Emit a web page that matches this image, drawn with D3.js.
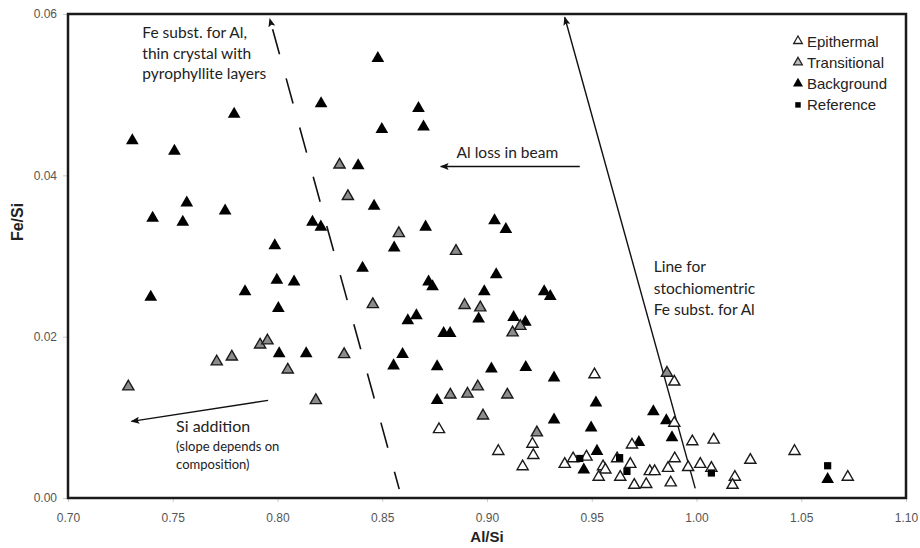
<!DOCTYPE html>
<html>
<head>
<meta charset="utf-8">
<script src="https://cdn.jsdelivr.net/npm/d3@7"></script>
<style>
  body { margin: 0; background: #fff; }
  svg { display: block; }
</style>
</head>
<body>
<div id="chart"></div>
<script>
// data: [Al/Si, Fe/Si]
const epithermal = [
  [0.9513,0.0153],[0.9894,0.0144],[0.8771,0.0085],[0.9217,0.0067],[0.9054,0.0058],
  [0.9221,0.0053],[0.9170,0.0039],[0.9371,0.0042],[0.9411,0.0049],[0.9475,0.0051],
  [0.9554,0.0039],[0.9565,0.0035],[0.9533,0.0026],[0.9621,0.0049],[0.9684,0.0042],
  [0.9636,0.0026],[0.9703,0.0016],[0.9760,0.0017],[0.9777,0.0033],[0.9800,0.0033],
  [0.9864,0.0037],[0.9896,0.0049],[0.9877,0.0019],[0.9960,0.0038],[1.0018,0.0042],
  [1.0071,0.0037],[1.0183,0.0026],[1.0172,0.0016],[0.9692,0.0066],[0.9894,0.0093],
  [0.9980,0.0070],[1.0082,0.0072],[1.0257,0.0047],[1.0468,0.0058],[1.0722,0.0026]
]
const transitional = [
  [0.8296,0.0413],[0.8336,0.0374],[0.8579,0.0328],[0.8852,0.0306],[0.7917,0.0190],
  [0.7952,0.0195],[0.8318,0.0178],[0.7710,0.0169],[0.7782,0.0175],[0.8049,0.0159],
  [0.7288,0.0138],[0.8183,0.0121],[0.8455,0.0240],[0.8893,0.0239],[0.8968,0.0236],
  [0.9159,0.0213],[0.9122,0.0205],[0.8956,0.0138],[0.8825,0.0128],[0.8907,0.0129],
  [0.9097,0.0128],[0.8981,0.0102],[0.9238,0.0081],[0.9859,0.0155]
]
const background = [
  [0.7307,0.0443],[0.7508,0.0430],[0.7793,0.0476],[0.7567,0.0366],[0.7404,0.0347],
  [0.7548,0.0342],[0.7750,0.0356],[0.7987,0.0313],[0.8167,0.0342],[0.8207,0.0336],
  [0.8208,0.0489],[0.8385,0.0412],[0.8479,0.0545],[0.8673,0.0483],[0.8498,0.0457],
  [0.8697,0.0460],[0.8461,0.0362],[0.8707,0.0336],[0.8557,0.0310],[0.9036,0.0344],
  [0.9090,0.0333],[0.7395,0.0249],[0.7845,0.0256],[0.7997,0.0270],[0.8079,0.0268],
  [0.8004,0.0235],[0.8008,0.0179],[0.8137,0.0179],[0.8406,0.0285],[0.9044,0.0277],
  [0.8721,0.0268],[0.8740,0.0262],[0.8987,0.0256],[0.9273,0.0256],[0.9302,0.0250],
  [0.8663,0.0226],[0.8622,0.0220],[0.8960,0.0222],[0.9127,0.0224],[0.9183,0.0218],
  [0.8793,0.0204],[0.8824,0.0204],[0.8597,0.0178],[0.8554,0.0164],[0.8762,0.0163],
  [0.9021,0.0160],[0.9185,0.0162],[0.9320,0.0149],[0.8762,0.0121],[0.9520,0.0118],
  [0.9320,0.0097],[0.9497,0.0087],[0.9525,0.0058],[0.9462,0.0035],[0.9725,0.0069],
  [0.9794,0.0107],[0.9856,0.0096],[0.9883,0.0075],[1.0626,0.0023]
]
const reference = [
  [0.9443,0.0049],[0.9633,0.0050],[0.9668,0.0033],[1.0071,0.0031],[1.0626,0.0040]
]

const xTicks = [0.70, 0.75, 0.80, 0.85, 0.90, 0.95, 1.00, 1.05, 1.10]
const yTicks = [0.00, 0.02, 0.04, 0.06]
const legendNames = ['Epithermal', 'Transitional', 'Background', 'Reference']

// annotation lines in data units
const dashedLine = [[0.8581, 0.0011], [0.7963, 0.0594]]
const stoichLine = [[0.9994, 0.0012], [0.9371, 0.0596]]
const alLossArrow = [[0.9443, 0.0411], [0.8779, 0.0411]]
const siArrow = [[0.7955, 0.0121], [0.7303, 0.0095]]

const W = 920, H = 548
const margin = { top: 14, right: 14, bottom: 50, left: 68 }
const width = W - margin.left - margin.right
const height = H - margin.top - margin.bottom

const x = d3.scaleLinear().domain([0.70, 1.10]).range([0, width])
const y = d3.scaleLinear().domain([0, 0.06]).range([height, 0])

const svg = d3.select('#chart').append('svg')
    .attr('width', W).attr('height', H)

const defs = svg.append('defs')
defs.append('marker')
    .attr('id', 'head')
    .attr('viewBox', '0 0 10 8')
    .attr('refX', 9).attr('refY', 4)
    .attr('markerWidth', 9).attr('markerHeight', 7)
    .attr('markerUnits', 'userSpaceOnUse')
    .attr('orient', 'auto')
    .append('path')
    .attr('d', 'M0,0 L10,4 L0,8 L2,4 z')
    .attr('fill', '#111')

const g = svg.append('g')
    .attr('transform', `translate(${margin.left},${margin.top})`)

// axes
g.append('g')
    .attr('transform', `translate(0,${height})`)
    .call(d3.axisBottom(x).tickValues(xTicks).tickFormat(d3.format('.2f')).tickSize(4).tickPadding(11))
    .call(a => a.select('.domain').remove())
    .call(a => a.selectAll('.tick line').attr('stroke', '#ccc'))
    .selectAll('text')
        .style('font-family', 'Liberation Sans, Arial, sans-serif')
        .style('font-size', '12px')
        .style('fill', '#555')

g.append('g')
    .call(d3.axisLeft(y).tickValues(yTicks).tickFormat(d3.format('.2f')).tickSize(5).tickPadding(6))
    .call(a => a.select('.domain').remove())
    .call(a => a.selectAll('.tick line').attr('stroke', '#ccc'))
    .selectAll('text')
        .style('font-family', 'Liberation Sans, Arial, sans-serif')
        .style('font-size', '12px')
        .style('fill', '#555')

// frame
g.append('rect')
    .attr('x', 0).attr('y', 0)
    .attr('width', width).attr('height', height)
    .attr('fill', 'none')
    .attr('stroke', '#1a1a1a')
    .attr('stroke-width', 2.5)

// axis titles
svg.append('text')
    .attr('x', margin.left + x(0.90)).attr('y', 542)
    .attr('text-anchor', 'middle')
    .style('font-family', 'Liberation Sans, Arial, sans-serif')
    .style('font-size', '15px').style('font-weight', 'bold')
    .style('fill', '#222')
    .text('Al/Si')

svg.append('text')
    .attr('transform', 'translate(23,222) rotate(-90)')
    .attr('text-anchor', 'middle')
    .style('font-family', 'Liberation Sans, Arial, sans-serif')
    .style('font-size', '16px').style('font-weight', 'bold')
    .style('fill', '#222')
    .text('Fe/Si')

// annotation lines
const line = d3.line().x(d => x(d[0])).y(d => y(d[1]))

g.append('path')
    .attr('d', line(dashedLine))
    .attr('fill', 'none').attr('stroke', '#111').attr('stroke-width', 1.6)
    .attr('stroke-dasharray', '26,25')
    .attr('stroke-dashoffset', 8)
    .attr('marker-end', 'url(#head)')

g.append('path')
    .attr('d', line(stoichLine))
    .attr('fill', 'none').attr('stroke', '#111').attr('stroke-width', 1.4)
    .attr('marker-end', 'url(#head)')

g.append('path')
    .attr('d', line(alLossArrow))
    .attr('fill', 'none').attr('stroke', '#111').attr('stroke-width', 1.4)
    .attr('marker-end', 'url(#head)')

g.append('path')
    .attr('d', line(siArrow))
    .attr('fill', 'none').attr('stroke', '#111').attr('stroke-width', 1.4)
    .attr('marker-end', 'url(#head)')

// annotation text
function note(px, py, lines, size, gap) {
    const t = g.append('text')
        .attr('x', x(px)).attr('y', y(py))
        .style('font-family', 'Lato, "Open Sans", sans-serif')
        .style('font-size', size + 'px')
        .style('fill', '#222')
    lines.forEach((s, i) => {
        t.append('tspan')
            .attr('x', x(px))
            .attr('dy', i === 0 ? 0 : gap)
            .text(s)
    })
}
note(0.7355, 0.0570, ['Fe subst. for Al,', 'thin crystal with', 'pyrophyllite layers'], 15.5, 20.5)
note(0.8855, 0.0421, ['Al loss in beam'], 15.5, 0)
note(0.9796, 0.0280, ['Line for', 'stochiomentric', 'Fe subst. for Al'], 15.5, 21.5)

const si = g.append('text')
    .attr('x', x(0.7516)).attr('y', y(0.0082))
    .style('font-family', 'Lato, "Open Sans", sans-serif')
    .style('fill', '#222')
si.append('tspan').style('font-size', '16px').text('Si addition')
si.append('tspan').attr('x', x(0.7516)).attr('dy', 19).style('font-size', '13px').text('(slope depends on')
si.append('tspan').attr('x', x(0.7516)).attr('dy', 18).style('font-size', '13px').text('composition)')

// markers
const tri = d3.symbol(d3.symbolTriangle)
const sq = d3.symbol(d3.symbolSquare)

g.selectAll('.bg')
    .data(background)
    .join('path')
    .attr('class', 'bg')
    .attr('transform', d => `translate(${x(d[0])},${y(d[1])})`)
    .attr('d', tri.size(70)())
    .attr('fill', '#000')

g.selectAll('.tr')
    .data(transitional)
    .join('path')
    .attr('class', 'tr')
    .attr('transform', d => `translate(${x(d[0])},${y(d[1])})`)
    .attr('d', tri.size(54)())
    .attr('fill', '#8c8c8c')
    .attr('stroke', '#1a1a1a')
    .attr('stroke-width', 1.4)

g.selectAll('.ep')
    .data(epithermal)
    .join('path')
    .attr('class', 'ep')
    .attr('transform', d => `translate(${x(d[0])},${y(d[1])})`)
    .attr('d', tri.size(54)())
    .attr('fill', '#fff')
    .attr('stroke', '#1a1a1a')
    .attr('stroke-width', 1.4)

g.selectAll('.ref')
    .data(reference)
    .join('path')
    .attr('class', 'ref')
    .attr('transform', d => `translate(${x(d[0])},${y(d[1])})`)
    .attr('d', sq.size(52)())
    .attr('fill', '#000')

// legend
const legend = svg.append('g').attr('transform', 'translate(798,41)')
const legendStyle = [
    { fill: '#fff', stroke: '#222', shape: tri, size: 32 },
    { fill: '#bbb', stroke: '#222', shape: tri, size: 32 },
    { fill: '#000', stroke: 'none', shape: tri, size: 44 },
    { fill: '#000', stroke: 'none', shape: sq, size: 30 }
]
legendNames.forEach((name, i) => {
    const row = legend.append('g').attr('transform', `translate(0,${i * 21.3})`)
    const s = legendStyle[i]
    row.append('path')
        .attr('d', s.shape.size(s.size)())
        .attr('fill', s.fill)
        .attr('stroke', s.stroke)
        .attr('stroke-width', 1.3)
    row.append('text')
        .attr('x', 9).attr('y', 5.5)
        .style('font-family', 'Liberation Sans, Arial, sans-serif')
        .style('font-size', '15px')
        .style('fill', '#222')
        .text(name)
})
</script>
</body>
</html>
